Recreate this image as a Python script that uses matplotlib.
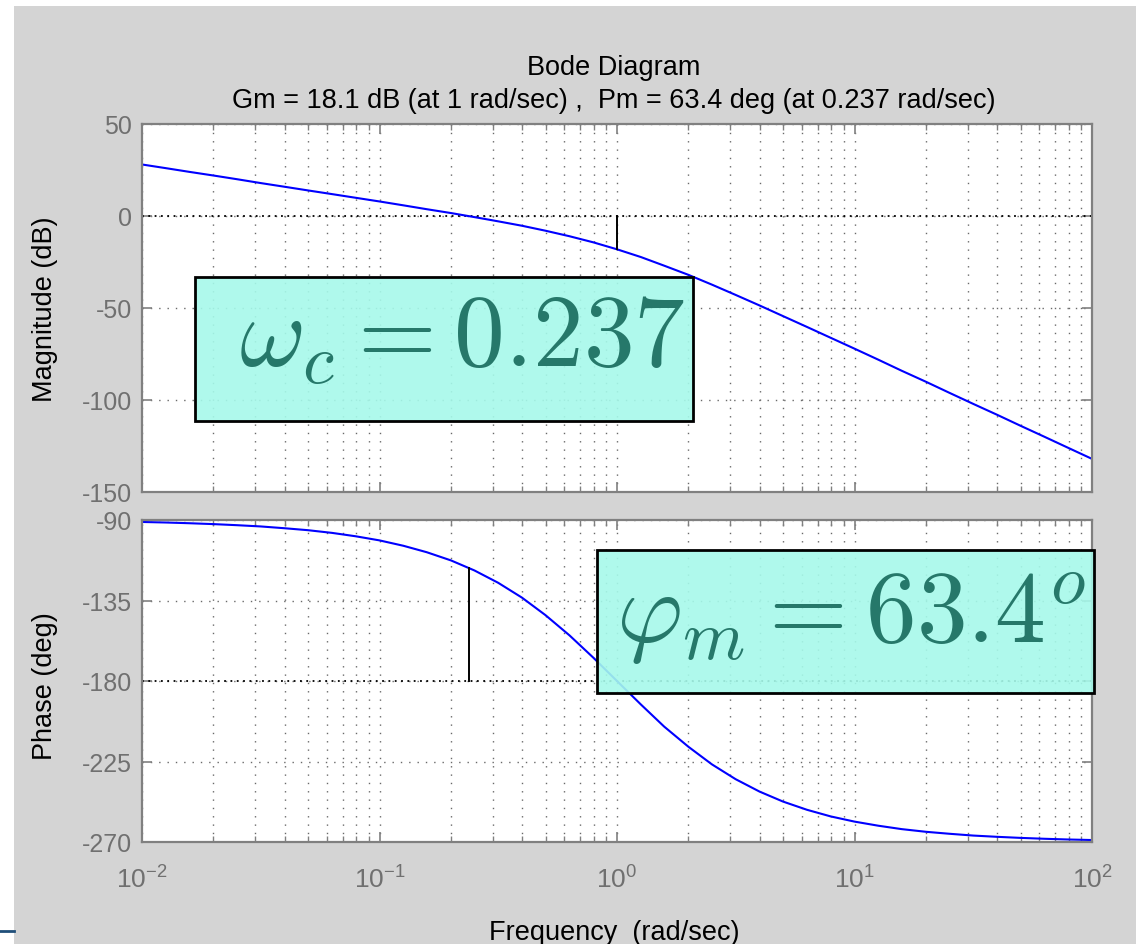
import matplotlib
matplotlib.use("Agg")
import matplotlib.pyplot as plt
from matplotlib.patches import Rectangle
from matplotlib.lines import Line2D
from matplotlib.ticker import LogLocator, NullFormatter, FixedLocator

plt.rcParams['font.family'] = ['Liberation Sans', 'DejaVu Sans']
plt.rcParams['axes.unicode_minus'] = False

# --------------------------------------------------------------------------
# data (every ~0.1 decade)
# --------------------------------------------------------------------------
freq = [0.01, 0.0126, 0.0158, 0.02, 0.0251, 0.0316, 0.0398, 0.05, 0.0631, 0.0794,
        0.1, 0.126, 0.158, 0.2, 0.251, 0.316, 0.398, 0.5, 0.631, 0.794,
        1.0, 1.26, 1.58, 2.0, 2.51, 3.16, 3.98, 5.0, 6.31, 7.94,
        10, 12.6, 15.8, 20, 25.1, 31.6, 39.8, 50, 63.1, 79.4, 100]
mag_db = [28.0, 26.0, 24.0, 22.0, 20.0, 17.9, 15.9, 13.9, 11.9, 9.9,
          7.9, 5.8, 3.7, 1.6, -0.6, -2.9, -5.3, -8.0, -11.0, -14.3,
          -18.1, -22.3, -27.0, -32.0, -37.3, -42.9, -48.6, -54.4, -60.3, -66.2,
          -72.1, -78.1, -84.1, -90.1, -96.1, -102.1, -108.0, -114.0, -120.0, -126.0, -132.0]
phase_deg = [-91.1, -91.4, -91.8, -92.3, -92.9, -93.6, -94.6, -95.7, -97.2, -99.1,
             -101.4, -104.4, -108.0, -112.6, -118.2, -125.1, -133.4, -143.2, -154.5, -166.9,
             -180.0, -193.1, -205.5, -216.8, -226.6, -234.9, -241.8, -247.4, -252.0, -255.7,
             -258.6, -260.9, -262.8, -264.3, -265.4, -266.4, -267.1, -267.7, -268.2, -268.6, -268.9]

gm_db, gm_freq = 18.1, 1.0
pm_deg, pm_freq = 63.4, 0.237

mag_ticks = [50, 0, -50, -100, -150]
phase_ticks = [-90, -135, -180, -225, -270]
freq_ticks = [1e-2, 1e-1, 1e0, 1e1, 1e2]

title_lines = ["Bode Diagram",
               "Gm = 18.1 dB (at 1 rad/sec) ,  Pm = 63.4 deg (at 0.237 rad/sec)"]
box_texts = [r"$\omega_c = 0.237$", r"$\varphi_m = 63.4^o$"]

W, H = 1136, 945
BG = "#d4d4d4"
AXC = "#808080"
GRIDC = "#6a6a6a"


def fx(px):
    return px / W


def fy(py):
    return 1 - py / H


fig = plt.figure(figsize=(W / 100, H / 100), dpi=100)
fig.patch.set_facecolor("white")
fig.patches.append(Rectangle((fx(14), 0), 1, fy(7), transform=fig.transFigure,
                             facecolor=BG, edgecolor="none", zorder=-10))
fig.lines.append(Line2D([0, fx(14)], [fy(932), fy(932)], transform=fig.transFigure,
                        color="#1f4e79", lw=2))

ax1 = fig.add_axes([fx(142), fy(493), fx(1092) - fx(142), fy(125) - fy(493)])
ax2 = fig.add_axes([fx(142), fy(843), fx(1092) - fx(142), fy(521) - fy(843)])


def style(ax, yticks, ylim):
    ax.set_xscale("log")
    ax.set_xlim(1e-2, 1e2)
    ax.set_ylim(*ylim)
    ax.set_yticks(yticks)
    ax.xaxis.set_major_locator(FixedLocator(freq_ticks))
    ax.xaxis.set_minor_locator(LogLocator(base=10, subs=range(2, 10), numticks=20))
    ax.xaxis.set_minor_formatter(NullFormatter())
    ax.grid(True, which="both", axis="x", color=GRIDC, lw=1, linestyle=(0, (1, 5)))
    ax.grid(True, which="major", axis="y", color=GRIDC, lw=1, linestyle=(0, (1, 5)))
    ax.tick_params(which="both", direction="in", top=True, right=True,
                   color=AXC, labelcolor="#707070", labelsize=18)
    ax.tick_params(which="major", length=7, width=1.2)
    ax.tick_params(which="minor", length=4, width=1.0)
    ax.tick_params(axis="y", pad=7)
    ax.tick_params(axis="x", pad=17, labelsize=19)
    for s in ax.spines.values():
        s.set_color(AXC)
        s.set_linewidth(1.6)
    ax.set_axisbelow(True)


style(ax1, mag_ticks, (-150, 50))
style(ax2, phase_ticks, (-270, -90))
ax1.tick_params(axis="x", labelbottom=False)

# magnitude
ax1.axhline(0, color="k", lw=1.3, linestyle=(0, (1, 2.5)))
ax1.plot(freq, mag_db, color="#0000ff", lw=1.5)
ax1.plot([gm_freq, gm_freq], [0, -gm_db], color="k", lw=1.4)

# phase
ax2.axhline(-180, color="k", lw=1.3, linestyle=(0, (1, 2.5)))
ax2.plot(freq, phase_deg, color="#0000ff", lw=1.5)
ax2.plot([pm_freq, pm_freq], [-180, -180 + pm_deg], color="k", lw=1.4)

# titles / labels
fig.text(fx(614), fy(75), title_lines[0], ha="center", va="baseline", fontsize=19.5)
fig.text(fx(614), fy(108), title_lines[1], ha="center", va="baseline", fontsize=19.5)
fig.text(fx(45), fy(309), "Magnitude (dB)", rotation=90, ha="center", va="center", fontsize=19.5)
fig.text(fx(45), fy(686), "Phase (deg)", rotation=90, ha="center", va="center", fontsize=19.5)
fig.text(fx(614), fy(940), "Frequency  (rad/sec)", ha="center", va="baseline", fontsize=19.5)

# highlighted annotation boxes
boxes = [(195, 278, 693, 422), (597, 551, 1094, 694)]
text_pos = [(462, 367), (851, 643)]
for (x0, y0, x1, y1), (tx, ty), s in zip(boxes, text_pos, box_texts):
    fig.patches.append(Rectangle((fx(x0), fy(y1)), fx(x1) - fx(x0), fy(y0) - fy(y1),
                                 transform=fig.transFigure, facecolor="#a6f9ea",
                                 alpha=0.9, edgecolor="none", zorder=5))
    fig.patches.append(Rectangle((fx(x0), fy(y1)), fx(x1) - fx(x0), fy(y0) - fy(y1),
                                 transform=fig.transFigure, facecolor="none",
                                 edgecolor="black", lw=2, zorder=6))
    fig.text(fx(tx), fy(ty), s, ha="center", va="baseline", fontsize=73,
             color="#26786a", math_fontfamily="cm", zorder=7)

fig.savefig("out.png", dpi=100, facecolor=fig.get_facecolor())
